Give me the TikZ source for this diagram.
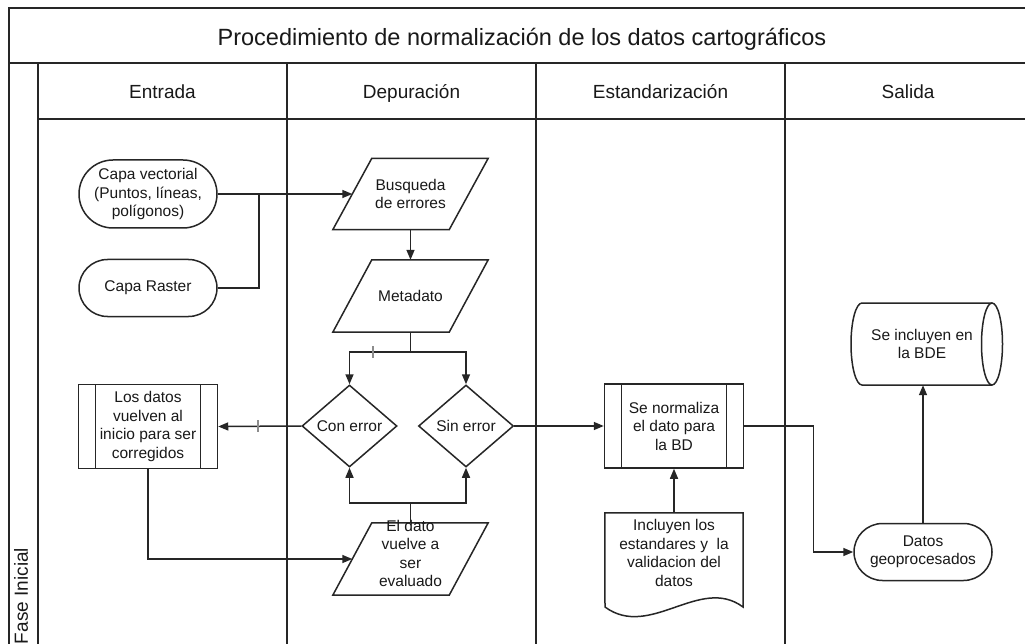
\documentclass[tikz,border=0pt]{standalone}
\usepackage{fontspec}
\setmainfont{Liberation Sans}
\usetikzlibrary{arrows.meta,shapes.geometric,shapes.misc,calc}
\begin{document}
\begin{tikzpicture}[x=1pt,y=-1pt,
  every node/.style={font=\fontsize{15.5}{18.5}\selectfont, align=center, inner sep=1pt, text=black!90},
  frameline/.style={line width=1.9pt, draw=black!85},
  shapeline/.style={line width=1.5pt, draw=black!85},
  conn/.style={line width=1.5pt, draw=black!85},
  arr/.style={conn, -{Triangle[length=10pt,width=8pt]}},
  term/.style={shapeline, rounded rectangle, minimum width=140pt},
  paral/.style={rectangle, minimum width=116pt, minimum height=71pt, inner sep=0pt,
     append after command={\pgfextra{\draw[shapeline]
        ($(\tikzlastnode.north west)+(19.5,0)$) -- ($(\tikzlastnode.north east)+(19.5,0)$) --
        ($(\tikzlastnode.south east)+(-19.5,0)$) -- ($(\tikzlastnode.south west)+(-19.5,0)$) -- cycle;}}},
  decision/.style={shapeline, diamond, minimum width=95pt, minimum height=82pt, inner sep=0pt},
  procbox/.style={shapeline, rectangle, minimum width=139pt, minimum height=84pt,
     path picture={\draw[line width=1.5pt, black!85]
        ([xshift=17pt]path picture bounding box.north west) -- ([xshift=17pt]path picture bounding box.south west)
        ([xshift=-17pt]path picture bounding box.north east) -- ([xshift=-17pt]path picture bounding box.south east);}},
  tickmark/.style={line width=1.4pt, draw=black!45},
  headtext/.style={font=\fontsize{19}{22}\selectfont, text height=13.7pt, text depth=4pt},
  titletext/.style={font=\fontsize{23.5}{27}\selectfont, text height=16.9pt, text depth=5pt}
]
\useasboundingbox (0,0) rectangle (1025,644);
\fill[white] (0,0) rectangle (1025,644);
% frame
\draw[frameline] (1025,8) -- (9,8) -- (9,644);
\draw[frameline] (9,63) -- (1025,63);
\draw[frameline] (38,63) -- (38,644);
\draw[frameline] (38,119) -- (1025,119);
\foreach \x in {287,536,785} \draw[frameline] (\x,63) -- (\x,644);
% headings
\node[titletext] (title) at (522,39.5) {Procedimiento de normalización de los datos cartográficos};
\node[headtext] (h1) at (162.5,94) {Entrada};
\node[headtext] (h2) at (411.5,94) {Depuración};
\node[headtext] (h3) at (660.5,94) {Estandarización};
\node[headtext] (h4) at (908,94) {Salida};
\node[headtext, rotate=90] (fase) at (23,596) {Fase Inicial};
% nodes
\node[term, minimum height=68pt] (cv) at (148,194) {Capa vectorial\\(Puntos, líneas,\\polígonos)};
\node[term, minimum height=57pt] (cr) at (148,288) {Capa Raster};
\node[paral] (bus) at (410.5,194) {Busqueda\\de errores};
\node[paral, minimum height=72pt] (meta) at (410.5,296) {Metadato};
\node[decision] (ce) at (349.5,426) {Con error};
\node[decision] (se) at (466,426) {Sin error};
\node[procbox] (ld) at (148,426.5) {Los datos\\vuelven al\\inicio para ser\\corregidos};
\node[paral, minimum height=72pt] (ed) at (410.5,559) {\smash{\begin{tabular}{@{}c@{}}El dato\\vuelve a\\ser\\evaluado\end{tabular}}};
\node[procbox] (sn) at (674,426) {Se normaliza\\el dato para\\la BD};
\node[minimum width=138pt, minimum height=80pt] (inc) at (674,553) {Incluyen los\\estandares y~ la\\validacion del\\datos};
\draw[shapeline] (inc.north west) -- (inc.north east) -- (743,607) .. controls (700,575) and (650,640) .. (605,607) -- cycle;
\node[term, minimum height=57pt] (dg) at (923,552) {Datos\\geoprocesados};
\node[minimum width=130pt, minimum height=82pt] (bde) at (922,344) {Se incluyen en\\la BDE};
\draw[shapeline] (992,303) -- (862,303) arc[start angle=90, end angle=270, x radius=11pt, y radius=41pt] -- (992,385);
\draw[shapeline] (992,344) ellipse[x radius=10.5pt, y radius=41pt];
% connectors
\coordinate (j1) at (259,194);
\draw[arr] (cv.east) -- (bus.west);
\draw[conn] (cr.east) -| (j1);
\draw[arr] (bus.south) -- (meta.north);
\coordinate (split) at ($(meta.south)+(0,20)$);
\draw[conn] (meta.south) -- (split);
\draw[arr] (split) -| (ce.north);
\draw[arr] (split) -| (se.north);
\draw[tickmark] (373,346) -- (373,358);
\draw[arr] (ce.west) -- (ld.east);
\draw[tickmark] (258,420) -- (258,432);
\draw[arr] (ld.south) |- (ed.west);
\coordinate (merge) at ($(ed.north)+(0,-20)$);
\draw[conn] (ed.north) -- (merge);
\draw[arr] (merge) -| (ce.south);
\draw[arr] (merge) -| (se.south);
\draw[arr] (se.east) -- (sn.west);
\draw[arr] (inc.north) -- (sn.south);
\draw[arr] (sn.east) -- ++(69,0) |- (dg.west);
\draw[arr] (dg.north) -- (dg.north |- bde.south);
\end{tikzpicture}
\end{document}
